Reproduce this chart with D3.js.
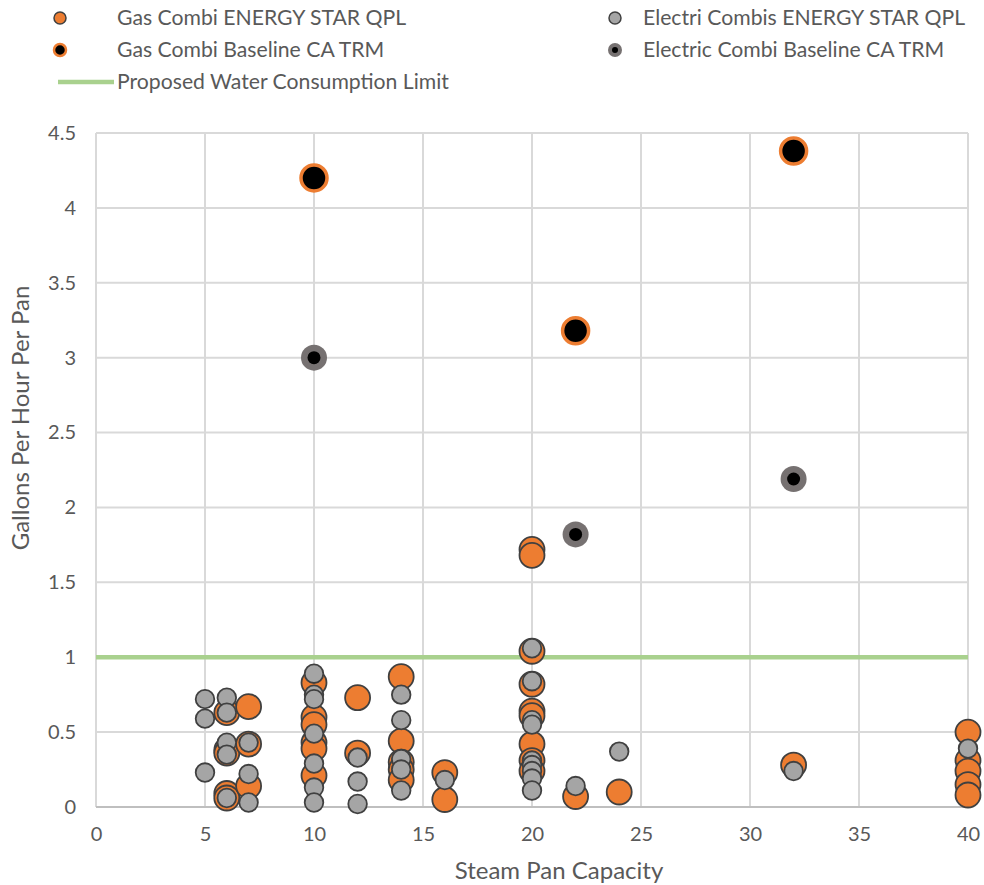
<!DOCTYPE html>
<html>
<head>
<meta charset="utf-8">
<script src="https://cdn.jsdelivr.net/npm/d3@7"></script>
<style>
  html, body { margin: 0; padding: 0; background: #fff; }
  svg { display: block; }
  text { font-family: Lato, "Open Sans", sans-serif; fill: #595959; }
</style>
</head>
<body>
<svg id="chart" width="984" height="885"></svg>
<script>
// ---- data ----
const gasQplX = [6,6,6,6,6, 7,7,7, 10,10,10,10,10,10, 12,12, 14,14,14,14,14, 16,16, 20,20,20,20,20,20,20,20,20, 22, 24, 32, 40,40,40,40,40];
const gasQplY = [0.63,0.38,0.36,0.09,0.06, 0.67,0.42,0.14, 0.83,0.60,0.55,0.43,0.39,0.21, 0.73,0.36, 0.87,0.44,0.30,0.25,0.18, 0.23,0.05, 1.72,1.68,1.04,0.82,0.64,0.61,0.42,0.31,0.24, 0.07, 0.10, 0.28, 0.50,0.31,0.24,0.15,0.08];
const elecQplX = [5,5,5, 6,6,6,6,6, 7,7,7, 10,10,10,10,10,10,10, 12,12,12, 14,14,14,14,14, 16, 20,20,20,20,20,20,20,20,20, 22, 24, 32, 40];
const elecQplY = [0.72,0.59,0.23, 0.73,0.63,0.43,0.35,0.06, 0.43,0.22,0.03, 0.89,0.75,0.72,0.49,0.29,0.13,0.03, 0.33,0.17,0.02, 0.75,0.58,0.32,0.25,0.11, 0.18, 1.06,0.84,0.58,0.55,0.31,0.28,0.24,0.19,0.11, 0.14, 0.37, 0.24, 0.39];
const gasBaseX = [10, 22, 32];
const gasBaseY = [4.20, 3.18, 4.38];
const elecBaseX = [10, 22, 32];
const elecBaseY = [3.00, 1.82, 2.19];
const limitX = [0, 40];
const limitY = [1, 1];
const xTicks = [0,5,10,15,20,25,30,35,40];
const yTicks = [0,0.5,1,1.5,2,2.5,3,3.5,4,4.5];
const seriesNames = ["Gas Combi ENERGY STAR QPL", "Electri Combis ENERGY STAR QPL", "Gas Combi Baseline CA TRM", "Electric Combi Baseline CA TRM", "Proposed Water Consumption Limit"];

// ---- layout ----
const svg = d3.select("#chart");
const L = 96, R = 968, T = 133, B = 807;
const x = d3.scaleLinear().domain([0, 40]).range([L, R]);
const y = d3.scaleLinear().domain([0, 4.5]).range([B, T]);

const ORANGE = "#ED7D31", GREY = "#A5A5A5", STROKE = "#404040", RING = "#767171", GREEN = "#A9D18E";

// gridlines
svg.append("g").selectAll("line").data(xTicks).join("line")
  .attr("x1", d => x(d)).attr("x2", d => x(d)).attr("y1", T).attr("y2", B)
  .attr("stroke", "#D9D9D9").attr("stroke-width", 2);
svg.append("g").selectAll("line").data(yTicks.filter(d => d > 0)).join("line")
  .attr("x1", L).attr("x2", R).attr("y1", d => y(d)).attr("y2", d => y(d))
  .attr("stroke", "#D9D9D9").attr("stroke-width", 2);
// bottom axis line
svg.append("line").attr("x1", L).attr("x2", R).attr("y1", B).attr("y2", B)
  .attr("stroke", "#BFBFBF").attr("stroke-width", 2);

// axes (labels only)
const xAxis = svg.append("g").attr("transform", `translate(0,${B})`)
  .call(d3.axisBottom(x).tickValues(xTicks).tickSize(0).tickPadding(20).tickFormat(d3.format("d")));
const yAxis = svg.append("g").attr("transform", `translate(${L},0)`)
  .call(d3.axisLeft(y).tickValues(yTicks).tickSize(0).tickPadding(20).tickFormat(d => String(d)));
[xAxis, yAxis].forEach(a => {
  a.select(".domain").remove();
  a.selectAll("text").attr("font-size", 20).attr("fill", "#595959")
    .style("font-family", "Lato, 'Open Sans', sans-serif");
});

// axis titles
svg.append("text").attr("x", 559).attr("y", 879).attr("text-anchor", "middle")
  .attr("font-size", 24).text("Steam Pan Capacity");
svg.append("text").attr("transform", `translate(29,418) rotate(-90)`)
  .attr("text-anchor", "middle").attr("font-size", 24).text("Gallons Per Hour Per Pan");

// limit line
svg.append("line")
  .attr("x1", x(limitX[0])).attr("x2", x(limitX[1]))
  .attr("y1", y(limitY[0])).attr("y2", y(limitY[1]))
  .attr("stroke", GREEN).attr("stroke-width", 4.5);

// gas QPL
svg.append("g").selectAll("circle").data(d3.range(gasQplX.length)).join("circle")
  .attr("cx", i => x(gasQplX[i])).attr("cy", i => y(gasQplY[i])).attr("r", 12.5)
  .attr("fill", ORANGE).attr("stroke", STROKE).attr("stroke-width", 1.8);
// electric QPL
svg.append("g").selectAll("circle").data(d3.range(elecQplX.length)).join("circle")
  .attr("cx", i => x(elecQplX[i])).attr("cy", i => y(elecQplY[i])).attr("r", 9.3)
  .attr("fill", GREY).attr("stroke", STROKE).attr("stroke-width", 1.8);
// gas baseline
svg.append("g").selectAll("circle").data(d3.range(gasBaseX.length)).join("circle")
  .attr("cx", i => x(gasBaseX[i])).attr("cy", i => y(gasBaseY[i])).attr("r", 13)
  .attr("fill", "#000").attr("stroke", ORANGE).attr("stroke-width", 3.5);
// electric baseline
const eb = svg.append("g");
eb.selectAll("circle.o").data(d3.range(elecBaseX.length)).join("circle").attr("class", "o")
  .attr("cx", i => x(elecBaseX[i])).attr("cy", i => y(elecBaseY[i])).attr("r", 13)
  .attr("fill", RING);
eb.selectAll("circle.i").data(d3.range(elecBaseX.length)).join("circle").attr("class", "i")
  .attr("cx", i => x(elecBaseX[i])).attr("cy", i => y(elecBaseY[i])).attr("r", 6.5)
  .attr("fill", "#000");

// legend
const lg = svg.append("g");
function legText(tx, ty, s) {
  lg.append("text").attr("x", tx).attr("y", ty).attr("dy", "0.35em").attr("font-size", 21.2).text(s);
}
// gas QPL
lg.append("circle").attr("cx", 60).attr("cy", 18).attr("r", 6).attr("fill", ORANGE).attr("stroke", STROKE).attr("stroke-width", 1.5);
legText(117, 18, seriesNames[0]);
// electric QPL
lg.append("circle").attr("cx", 615).attr("cy", 18).attr("r", 6).attr("fill", GREY).attr("stroke", STROKE).attr("stroke-width", 1.5);
legText(643, 18, seriesNames[1]);
// gas baseline
lg.append("circle").attr("cx", 60).attr("cy", 50).attr("r", 6).attr("fill", "#000").attr("stroke", ORANGE).attr("stroke-width", 2.5);
legText(117, 50, seriesNames[2]);
// electric baseline
lg.append("circle").attr("cx", 615).attr("cy", 50).attr("r", 7).attr("fill", RING);
lg.append("circle").attr("cx", 615).attr("cy", 50).attr("r", 3).attr("fill", "#000");
legText(643, 50, seriesNames[3]);
// limit
lg.append("line").attr("x1", 58).attr("x2", 114).attr("y1", 82).attr("y2", 82).attr("stroke", GREEN).attr("stroke-width", 4.5);
legText(117, 82, seriesNames[4]);
</script>
</body>
</html>
